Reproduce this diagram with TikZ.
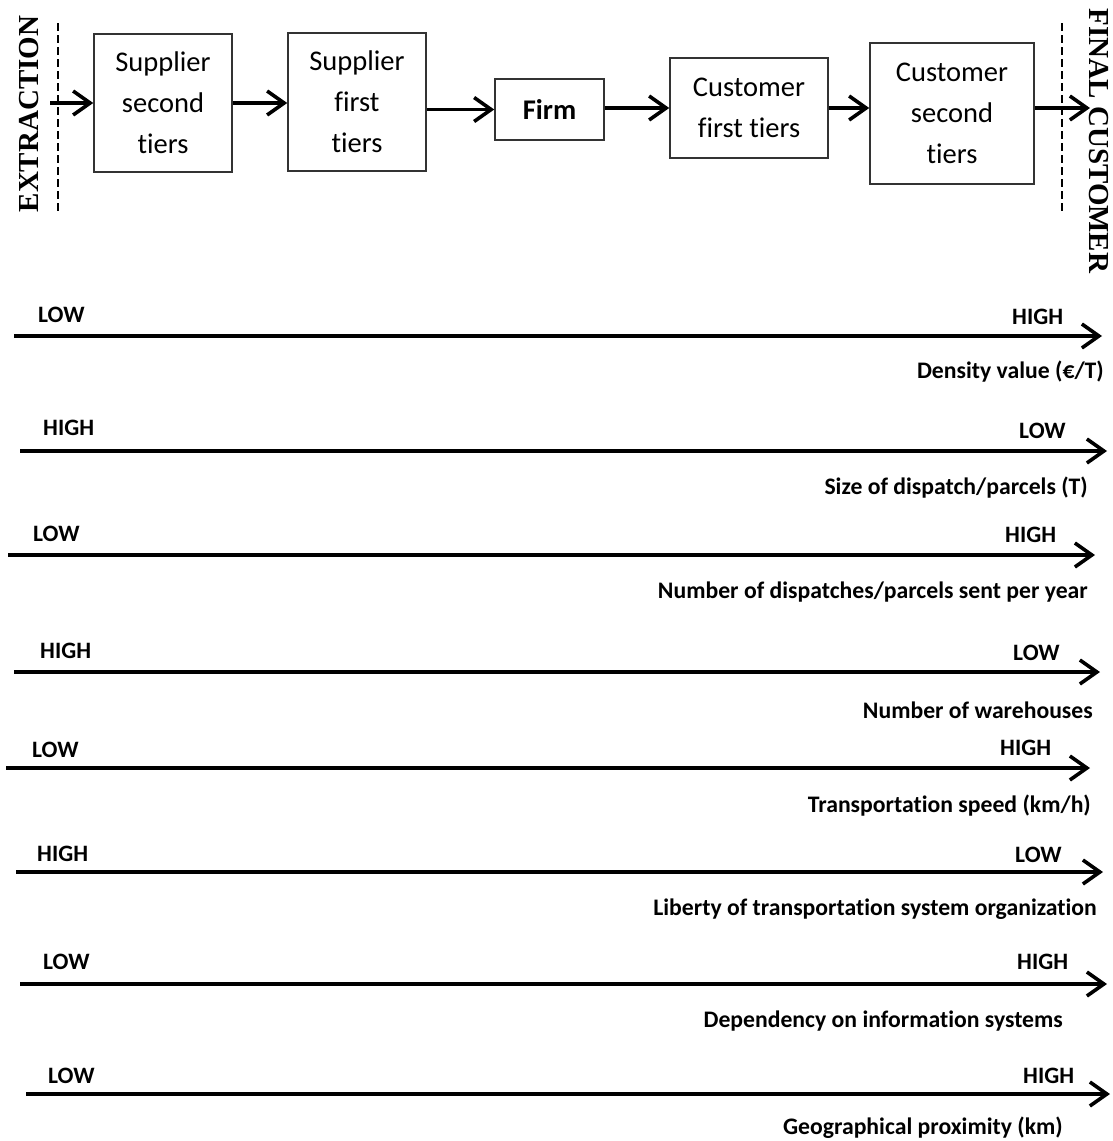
\documentclass[tikz,border=0pt]{standalone}
\usepackage{fontspec}
\setmainfont{Carlito}[Ligatures=NoCommon]
\newfontfamily\tnr{Liberation Serif}
\usetikzlibrary{arrows.meta}
\begin{document}
\begin{tikzpicture}[x=1pt,y=-1pt,
  box/.style={draw=black!80,line width=1.5pt,inner sep=0pt,align=center,
    font=\fontsize{28.5}{41}\selectfont},
  flow/.style={line width=3.6pt,-{Straight Barb[length=17pt,width=24pt,line width=3.6pt]}},
  axis/.style={line width=3.6pt,-{Straight Barb[length=17pt,width=24pt,line width=3.6pt]}},
  lvl/.style={font=\bfseries\fontsize{23.5}{27}\selectfont,anchor=west,inner sep=0pt},
  desc/.style={font=\bfseries\fontsize{23.7}{27}\selectfont,anchor=east,inner sep=0pt},
  side/.style={font=\tnr\bfseries\fontsize{29}{33}\selectfont,inner sep=0pt},
  bound/.style={line width=2pt,dash pattern=on 8pt off 4pt}]
\useasboundingbox[fill=white] (0,0) rectangle (1112,1141);

% ---- supply chain ----
\node[box,minimum width=138pt,minimum height=138pt] (s2) at (163,103) {Supplier\\second\\tiers};
\node[box,minimum width=138pt,minimum height=138pt] (s1) at (357,102) {Supplier\\first\\tiers};
\node[box,minimum width=109pt,minimum height=61pt,font=\bfseries\fontsize{28.5}{41}\selectfont] (firm) at (549.5,109.5) {Firm};
\node[box,minimum width=158pt,minimum height=100pt] (c1) at (749,108) {Customer\\first tiers};
\node[box,minimum width=164pt,minimum height=141pt] (c2) at (952,113.5) {Customer\\second\\tiers};

\coordinate (ext) at (50,103);
\coordinate (fin) at (1090,108);
\coordinate (dl1) at (58,23); \coordinate (dl2) at (58,213);
\coordinate (dr1) at (1062,23); \coordinate (dr2) at (1062,213);
\draw[bound] (dl1) -- (dl2);
\draw[bound] (dr1) -- (dr2);
\node[side,rotate=90] (extr) at (29,114) {EXTRACTION};
\node[side,rotate=-90] (fc) at (1099,141) {FINAL CUSTOMER};

\draw[flow] (ext) -- (s2.west);
\draw[flow] (s2.east) -- (s1.west |- s2.east);
\draw[flow] (s1.east |- firm.west) -- (firm.west);
\draw[flow] (firm.east |- c1.west) -- (c1.west);
\draw[flow] (c1.east) -- (c2.west |- c1.east);
\draw[flow] (c2.east |- fin) -- (fin);

% ---- axes ----
\coordinate (a1s) at (14,336);  \coordinate (a1e) at (1102,336);
\coordinate (a2s) at (20,451);  \coordinate (a2e) at (1107,451);
\coordinate (a3s) at (8,555);   \coordinate (a3e) at (1095,555);
\coordinate (a4s) at (14,672);  \coordinate (a4e) at (1100,672);
\coordinate (a5s) at (6,768);   \coordinate (a5e) at (1090,768);
\coordinate (a6s) at (16,872);  \coordinate (a6e) at (1103,872);
\coordinate (a7s) at (20,984);  \coordinate (a7e) at (1107,984);
\coordinate (a8s) at (26,1094); \coordinate (a8e) at (1110,1094);
\foreach \i in {1,...,8} {\draw[axis] (a\i s) -- (a\i e);}

\node[lvl] (l1a) at (38,315) {LOW};   \node[lvl] (l1b) at (1012,317) {HIGH};
\node[desc] (d1) at (1104,372) {Density value (€/T)};
\node[lvl] (l2a) at (43,428) {HIGH};  \node[lvl] (l2b) at (1019,431) {LOW};
\node[desc] (d2) at (1088,488) {Size of dispatch/parcels (T)};
\node[lvl] (l3a) at (33,534) {LOW};   \node[lvl] (l3b) at (1005,535) {HIGH};
\node[desc] (d3) at (1088,592) {Number of dispatches/parcels sent per year};
\node[lvl] (l4a) at (40,651) {HIGH};  \node[lvl] (l4b) at (1013,653) {LOW};
\node[desc] (d4) at (1093,710) {Number of warehouses};
\node[lvl] (l5a) at (32,750) {LOW};   \node[lvl] (l5b) at (1000,748) {HIGH};
\node[desc] (d5) at (1091,806) {Transportation speed (km/h)};
\node[lvl] (l6a) at (37,854) {HIGH};  \node[lvl] (l6b) at (1015,855) {LOW};
\node[desc] (d6) at (1097,909) {Liberty of transportation system organization};
\node[lvl] (l7a) at (43,962) {LOW};   \node[lvl] (l7b) at (1017,962) {HIGH};
\node[desc] (d7) at (1063,1021) {Dependency on information systems};
\node[lvl] (l8a) at (48,1076) {LOW};  \node[lvl] (l8b) at (1023,1076) {HIGH};
\node[desc] (d8) at (1063,1128) {Geographical proximity (km)};
\end{tikzpicture}
\end{document}
